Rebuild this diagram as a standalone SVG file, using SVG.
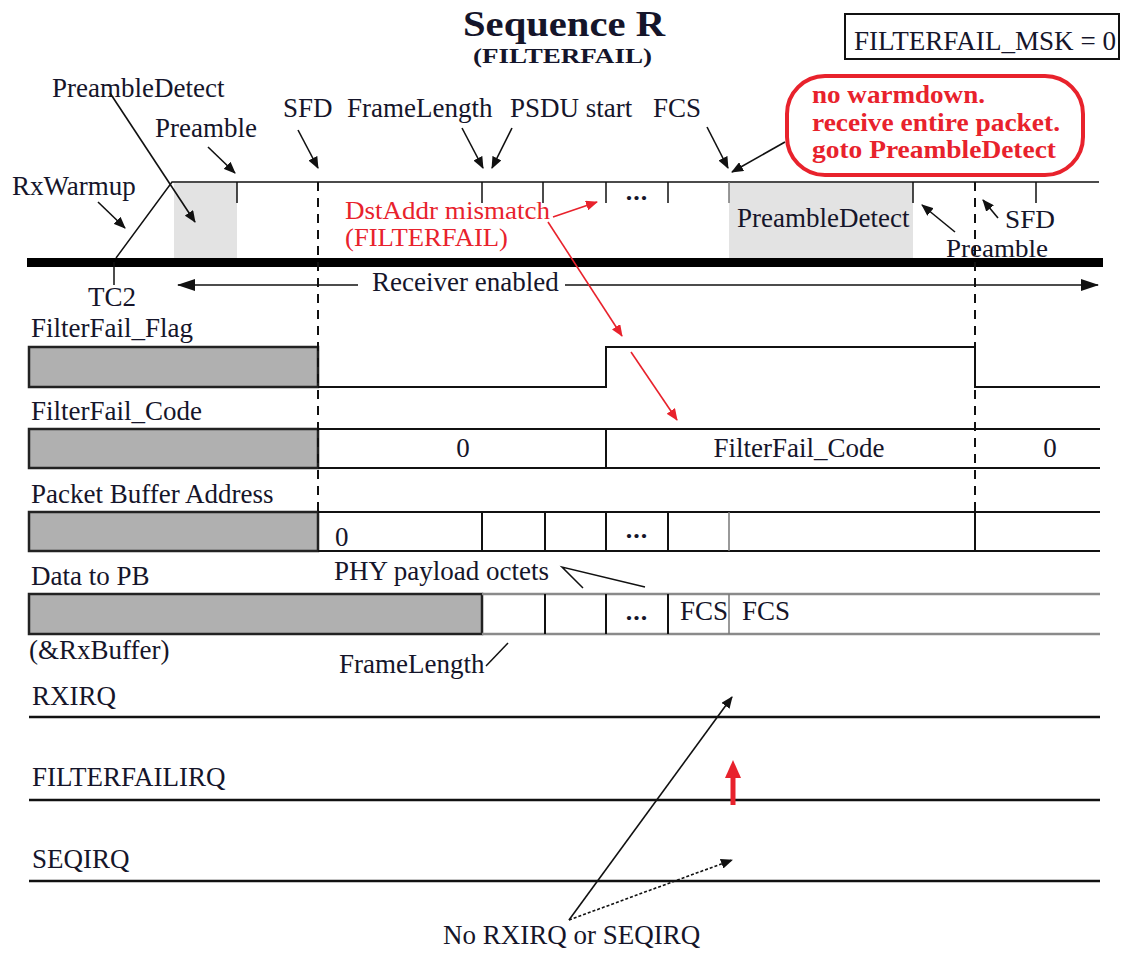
<svg xmlns="http://www.w3.org/2000/svg" width="1121" height="953" viewBox="0 0 1121 953">
<defs>
<marker id="ab" markerUnits="userSpaceOnUse" markerWidth="12" markerHeight="10" refX="11" refY="5" orient="auto"><path d="M0,0 L12,5 L0,10 z" fill="#111"/></marker>
<marker id="abig" markerUnits="userSpaceOnUse" markerWidth="18" markerHeight="12" refX="17" refY="6" orient="auto"><path d="M0,0 L18,6 L0,12 z" fill="#111"/></marker>
<marker id="ar" markerUnits="userSpaceOnUse" markerWidth="12" markerHeight="10" refX="11" refY="5" orient="auto"><path d="M0,0 L12,5 L0,10 z" fill="#e8222c"/></marker>
</defs>
<style>
text{font-family:"Liberation Serif","Times New Roman",serif;font-size:27px;fill:#15152a}
.r{fill:#e8222c}
.b{font-weight:bold}
.m{text-anchor:middle}
.dots{font-weight:bold;font-size:26px;text-anchor:middle;letter-spacing:1px}
.ln{stroke:#111;stroke-width:2;fill:none}
.th{stroke:#111;stroke-width:1.5;fill:none}
.gl{stroke:#8a8a8a;stroke-width:2.5;fill:none}
.dash{stroke:#111;stroke-width:2;stroke-dasharray:9,7;fill:none}
.gray{fill:#b0b0b0;stroke:#222;stroke-width:2.5}
.lgray{fill:#e3e3e3;stroke:none}
.arr{stroke:#111;stroke-width:1.6;fill:none;marker-end:url(#ab)}
.rarr{stroke:#e8222c;stroke-width:1.6;fill:none;marker-end:url(#ar)}
</style>
<rect width="1121" height="953" fill="#fff"/>

<g id="title">
<text x="463" y="36" class="b" style="font-size:36px" textLength="202" lengthAdjust="spacingAndGlyphs">Sequence R</text>
<text x="473" y="63" class="b" style="font-size:21px" textLength="179" lengthAdjust="spacingAndGlyphs">(FILTERFAIL)</text>
</g>

<g id="msk-box">
<rect x="845" y="14" width="274" height="45" fill="none" stroke="#111" stroke-width="2"/>
<text x="854" y="50" textLength="262" lengthAdjust="spacingAndGlyphs">FILTERFAIL_MSK = 0</text>
</g>

<g id="note-box">
<rect x="787" y="76" width="296" height="99" rx="38" ry="38" fill="#fff" stroke="#e8222c" stroke-width="4"/>
<text x="812" y="103" class="r b" style="font-size:25px" textLength="173" lengthAdjust="spacingAndGlyphs">no warmdown.</text>
<text x="812" y="131" class="r b" style="font-size:25px" textLength="248" lengthAdjust="spacingAndGlyphs">receive entire packet.</text>
<text x="812" y="158" class="r b" style="font-size:25px" textLength="244" lengthAdjust="spacingAndGlyphs">goto PreambleDetect</text>
</g>

<g id="rx-timeline">
<rect class="lgray" x="174" y="183" width="63" height="75"/>
<rect class="lgray" x="729" y="183" width="184" height="75"/>
<polyline class="th" points="116,258 172,182 1099,182"/>
<path class="th" d="M237,182V203M482,182V203M543,182V203M606,182V203M668,182V203M913,182V203M1036,182V203"/>
<path d="M729,182V203" stroke="#777" stroke-width="1.5"/>
<rect x="27" y="258" width="1076" height="9" fill="#000"/>
<path class="th" d="M114,262V285"/>
<text x="637" y="200" class="dots">...</text>
<text x="737" y="227">PreambleDetect</text>
<text x="88" y="306">TC2</text>
</g>

<g id="top-labels">
<text x="52" y="97">PreambleDetect</text>
<text x="155" y="137">Preamble</text>
<text x="283" y="117">SFD</text>
<text x="347" y="117">FrameLength</text>
<text x="510" y="117">PSDU start</text>
<text x="653" y="117">FCS</text>
<text x="12" y="195">RxWarmup</text>
<text x="946" y="257" style="font-size:26px" textLength="102" lengthAdjust="spacingAndGlyphs">Preamble</text>
<text x="1005" y="228" style="font-size:26px" textLength="50" lengthAdjust="spacingAndGlyphs">SFD</text>
<text x="345" y="219" class="r" style="font-size:26px" textLength="205" lengthAdjust="spacingAndGlyphs">DstAddr mismatch</text>
<text x="345" y="246" class="r" style="font-size:26px" textLength="163" lengthAdjust="spacingAndGlyphs">(FILTERFAIL)</text>
</g>

<g id="receiver-enabled">
<text x="372" y="291">Receiver enabled</text>
</g>

<g id="flag-row">
<text x="31" y="337">FilterFail_Flag</text>
<rect class="gray" x="29" y="347" width="289" height="40"/>
<polyline class="ln" points="318,387 606,387 606,347 975,347 975,387 1100,387"/>
</g>

<g id="code-row">
<text x="31" y="420">FilterFail_Code</text>
<rect class="gray" x="29" y="429" width="289" height="39"/>
<path class="ln" d="M318,429H1100M318,468H1100M606,429V468"/>
<text x="463" y="457" class="m">0</text>
<text x="799" y="457" class="m">FilterFail_Code</text>
<text x="1050" y="457" class="m">0</text>
</g>

<g id="pba-row">
<text x="31" y="503">Packet Buffer Address</text>
<rect class="gray" x="29" y="512" width="289" height="39"/>
<path class="ln" d="M318,512H1100M318,551H1100M482,512V551M545,512V551M606,512V551M668,512V551M975,512V551"/>
<path d="M729,512V551" stroke="#777" stroke-width="1.5"/>
<text x="335" y="546">0</text>
<text x="637" y="538" class="dots">...</text>
</g>

<g id="data-row">
<text x="31" y="585">Data to PB</text>
<text x="334" y="580">PHY payload octets</text>
<rect class="gray" x="29" y="594" width="453" height="40"/>
<path class="gl" d="M482,594H1100M482,634H1100"/>
<path class="ln" d="M545,594V634M606,594V634M668,594V634"/>
<path d="M729,594V634" stroke="#777" stroke-width="1.5"/>
<text x="637" y="620" class="dots">...</text>
<text x="680" y="620">FCS</text>
<text x="742" y="620">FCS</text>
<text x="29" y="659">(&amp;RxBuffer)</text>
<text x="339" y="673">FrameLength</text>
</g>

<g id="irq-rows">
<text x="32" y="705">RXIRQ</text>
<text x="32" y="786">FILTERFAILIRQ</text>
<text x="32" y="868">SEQIRQ</text>
<path stroke="#111" stroke-width="2.5" fill="none" d="M29,717H1100M29,800H1100M29,881H1100"/>
<text x="443" y="944">No RXIRQ or SEQIRQ</text>
</g>

<g id="connectors">
<path class="dash" d="M318,182V512M975,182V512"/>
<line class="th" x1="358" y1="285" x2="178" y2="285" marker-end="url(#abig)"/>
<line class="th" x1="565" y1="285" x2="1098" y2="285" marker-end="url(#abig)"/>
<line class="arr" x1="110" y1="93" x2="195" y2="222"/>
<line class="arr" x1="208" y1="147" x2="235" y2="173"/>
<line class="arr" x1="298" y1="130" x2="318" y2="168"/>
<line class="arr" x1="462" y1="128" x2="483" y2="168"/>
<line class="arr" x1="512" y1="128" x2="492" y2="168"/>
<line class="arr" x1="707" y1="127" x2="728" y2="168"/>
<line class="arr" x1="785" y1="142" x2="732" y2="172"/>
<line class="arr" x1="98" y1="202" x2="125" y2="228"/>
<line class="arr" x1="955" y1="232" x2="922" y2="205"/>
<line class="arr" x1="998" y1="218" x2="983" y2="200"/>
<line class="rarr" x1="553" y1="217" x2="597" y2="202"/>
<line class="rarr" x1="548" y1="222" x2="622" y2="336"/>
<line class="rarr" x1="631" y1="352" x2="677" y2="420"/>
<polyline class="th" points="583,588 562,567 645,587"/>
<line class="th" x1="486" y1="666" x2="508" y2="643"/>
<line class="arr" x1="569" y1="920" x2="732" y2="697"/>
<line x1="569" y1="920" x2="732" y2="860" stroke="#111" stroke-width="1.6" stroke-dasharray="3,2" marker-end="url(#ab)"/>
<line x1="733" y1="805" x2="733" y2="776" stroke="#e8222c" stroke-width="5"/>
<path d="M733,760 L741,778 L725,778 z" fill="#e8222c"/>
</g>
</svg>
